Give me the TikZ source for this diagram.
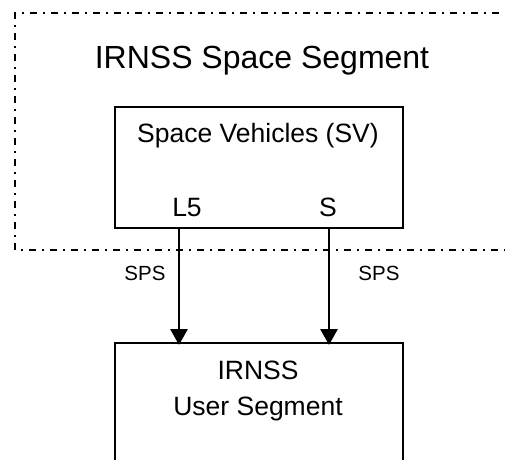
\documentclass[tikz,border=0pt]{standalone}
\usepackage{fontspec}
\setmainfont{Liberation Sans}
\usetikzlibrary{arrows.meta}
\begin{document}
\begin{tikzpicture}[x=1pt,y=-1pt,
  frame/.style={line width=1.8pt,dash pattern=on 7pt off 6pt on 2pt off 6pt},
  blk/.style={draw,line width=2pt,rectangle,inner sep=0pt},
  sig/.style={line width=2.8pt,-{Triangle[width=17pt,length=16pt]},shorten >=-3pt},
  title/.style={font=\fontsize{32}{36}\selectfont,anchor=base,inner sep=0pt},
  body/.style={font=\fontsize{26.5}{30}\selectfont,anchor=base,inner sep=0pt},
  small/.style={font=\fontsize{20.5}{24}\selectfont,anchor=base,inner sep=0pt}]
\useasboundingbox (0,0) rectangle (505,459);
\clip (0,0) rectangle (505,459);
% space segment frame (open on the right)
\coordinate (fr1) at (520,13);
\coordinate (fr2) at (15,13);
\coordinate (fr3) at (15,250);
\coordinate (fr4) at (520,250);
\draw[frame] (fr1) -- (fr2) -- (fr3) -- (fr4);
\node[title] (t) at (262,68) {IRNSS Space Segment};
% space vehicles box
\node[blk,minimum width=288pt,minimum height=121pt] (sv) at (259,167.5) {};
\node[body] (svt) at (258,142) {Space Vehicles (SV)};
\node[body] (l5) at (187,216) {L5};
\node[body] (s) at (328,216) {S};
% user segment box
\node[blk,minimum width=288pt,minimum height=140pt] (us) at (259,413) {};
\node[body] (u1) at (258,379) {IRNSS};
\node[body] (u2) at (258,415) {User Segment};
% signals
\coordinate (xa) at (179,0);
\coordinate (xb) at (329,0);
\draw[sig] (sv.south -| xa) -- (us.north -| xa);
\draw[sig] (sv.south -| xb) -- (us.north -| xb);
\node[small] (sps1) at (145,280) {SPS};
\node[small] (sps2) at (379,280) {SPS};
\end{tikzpicture}
\end{document}
